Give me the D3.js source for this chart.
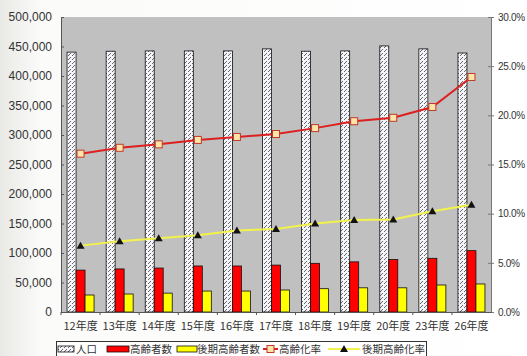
<!DOCTYPE html>
<html>
<head>
<meta charset="utf-8">
<script src="https://cdn.jsdelivr.net/npm/d3@7"></script>
<style>
  body { margin: 0; background: #fff; }
  text { font-family: "Liberation Sans", "Noto Sans CJK JP", sans-serif; fill: #333; }
  .cjk { font-family: "Noto Sans CJK JP", sans-serif; }
</style>
</head>
<body>
<div id="chart"></div>
<script>
/* DATA */
const years = ["12年度", "13年度", "14年度", "15年度", "16年度", "17年度", "18年度", "19年度", "20年度", "23年度", "26年度"];
const population = [440500, 442000, 442500, 442500, 442500, 446000, 442000, 442500, 451000, 446000, 439000];
const elderly = [71000, 73000, 74500, 78000, 78000, 79500, 82500, 85000, 89000, 91000, 104000];
const lateElderly = [28800, 30500, 32000, 35500, 35500, 37300, 39500, 41000, 41000, 45800, 47500];
const agingRate = [16.1, 16.7, 17.05, 17.5, 17.8, 18.1, 18.7, 19.4, 19.75, 20.85, 23.9];
const lateAgingRate = [6.75, 7.2, 7.5, 7.8, 8.3, 8.45, 9.0, 9.35, 9.4, 10.25, 10.9];
const leftTicks = [0, 50000, 100000, 150000, 200000, 250000, 300000, 350000, 400000, 450000, 500000];
const rightTicks = [0, 5, 10, 15, 20, 25, 30];
const barSeries = ["人口", "高齢者数", "後期高齢者数"];

/* LAYOUT */
const width = 527, height = 356;
const plot = { left: 61, right: 491, top: 17, bottom: 312 };

const svg = d3.select("#chart").append("svg")
  .attr("width", width)
  .attr("height", height);

const defs = svg.append("defs");

// faint grey edge on the left like the original page
const bg = defs.append("linearGradient").attr("id", "bg").attr("x1", 0).attr("x2", 1);
bg.append("stop").attr("offset", 0).attr("stop-color", "#e9e9e6");
bg.append("stop").attr("offset", 0.08).attr("stop-color", "#fbfbfa");
bg.append("stop").attr("offset", 1).attr("stop-color", "#ffffff");
svg.append("rect").attr("width", width).attr("height", height).attr("fill", "url(#bg)");

// hatch for the population bars
const hatch = defs.append("pattern")
  .attr("id", "hatch")
  .attr("patternUnits", "userSpaceOnUse")
  .attr("width", 4).attr("height", 4);
hatch.append("rect").attr("width", 4).attr("height", 4).attr("fill", "#f4f4fb");
hatch.append("path").attr("d", "M0,4 L3,1").attr("stroke", "#444").attr("stroke-width", 0.8);

/* SCALES */
const x0 = d3.scaleBand().domain(years).range([plot.left, plot.right]);
const groupW = 27;
const x1 = d3.scaleBand().domain(barSeries).range([0, groupW]);
const yLeft = d3.scaleLinear().domain([0, 500000]).range([plot.bottom, plot.top]);
const yRight = d3.scaleLinear().domain([0, 30]).range([plot.bottom, plot.top]);

const groupX = d => x0(d) + x0.bandwidth() / 2 - groupW / 2;
const pointX = d => groupX(d) + x1("高齢者数") + x1.bandwidth() / 2;

// plot background
svg.append("rect")
  .attr("x", plot.left).attr("y", plot.top)
  .attr("width", plot.right - plot.left).attr("height", plot.bottom - plot.top)
  .attr("fill", "#c0c0c0");

/* BARS */
const fills = { "人口": "url(#hatch)", "高齢者数": "#ff0000", "後期高齢者数": "#ffff00" };
const barRows = years.flatMap((y, i) => [
  { year: y, key: "人口", value: population[i] },
  { year: y, key: "高齢者数", value: elderly[i] },
  { year: y, key: "後期高齢者数", value: lateElderly[i] }
]);

svg.append("g")
  .selectAll("rect")
  .data(barRows)
  .join("rect")
  .attr("x", d => groupX(d.year) + x1(d.key))
  .attr("y", d => yLeft(d.value))
  .attr("width", x1.bandwidth())
  .attr("height", d => yLeft(0) - yLeft(d.value))
  .attr("fill", d => fills[d.key])
  .attr("stroke", "#111")
  .attr("stroke-width", 0.8);

/* AXES */
const leftAxis = svg.append("g")
  .attr("transform", `translate(${plot.left},0)`)
  .call(d3.axisRight(yLeft).tickValues(leftTicks).tickSize(3).tickFormat(""));
leftAxis.select(".domain").attr("stroke", "#555");
leftAxis.selectAll(".tick line").attr("stroke", "#555");

svg.append("g")
  .selectAll("text")
  .data(leftTicks)
  .join("text")
  .attr("x", 52)
  .attr("y", d => yLeft(d) + 4)
  .attr("text-anchor", "end")
  .style("font-size", "12px")
  .text(d => d3.format(",")(d));

const rightAxis = svg.append("g")
  .attr("transform", `translate(${plot.right},0)`)
  .call(d3.axisRight(yRight).tickValues(rightTicks).tickSize(3).tickFormat(d => d.toFixed(1) + "%"));
rightAxis.select(".domain").attr("stroke", "#777");
rightAxis.selectAll(".tick line").attr("stroke", "#777").attr("x1", -3);
rightAxis.selectAll(".tick text")
  .attr("x", 7)
  .style("font-size", "10px")
  .style("font-family", "Liberation Sans")
  .style("letter-spacing", "-0.3px")
  .attr("fill", "#333");

const bottomAxis = svg.append("g")
  .attr("transform", `translate(0,${plot.bottom})`)
  .call(d3.axisBottom(x0).tickSize(0).tickPadding(10));
bottomAxis.select(".domain").attr("stroke", "#555");
bottomAxis.selectAll(".tick text")
  .attr("class", "cjk")
  .style("font-size", "11px")
  .attr("fill", "#333");
svg.append("g")
  .selectAll("line")
  .data(years)
  .join("line")
  .attr("x1", d => x0(d)).attr("x2", d => x0(d))
  .attr("y1", plot.bottom).attr("y2", plot.bottom + 3)
  .attr("stroke", "#555");

/* LINES */
const redLine = d3.line().x((d, i) => pointX(years[i])).y(d => yRight(d));
svg.append("path")
  .datum(agingRate)
  .attr("d", redLine)
  .attr("fill", "none")
  .attr("stroke", "#dd1f1f")
  .attr("stroke-width", 2);
svg.append("g")
  .selectAll("rect")
  .data(agingRate)
  .join("rect")
  .attr("x", (d, i) => pointX(years[i]) - 3.5)
  .attr("y", d => yRight(d) - 3.5)
  .attr("width", 7).attr("height", 7)
  .attr("fill", "#ffe6a8")
  .attr("stroke", "#c0392b")
  .attr("stroke-width", 1);

svg.append("path")
  .datum(lateAgingRate)
  .attr("d", redLine)
  .attr("fill", "none")
  .attr("stroke", "#f2f24a")
  .attr("stroke-width", 2);
svg.append("g")
  .selectAll("path")
  .data(lateAgingRate)
  .join("path")
  .attr("transform", (d, i) => `translate(${pointX(years[i])},${yRight(d)})`)
  .attr("d", "M0,-4 L4,3 L-4,3 Z")
  .attr("fill", "#111");

/* LEGEND */
const legend = svg.append("g");
legend.append("rect")
  .attr("x", 56.5).attr("y", 341.5)
  .attr("width", 370).attr("height", 20)
  .attr("fill", "#fff")
  .attr("stroke", "#333");

const legendY = 349;
const legendItems = [
  { label: "人口", type: "bar", fill: "url(#hatch)", x: 58, w: 16, tx: 76 },
  { label: "高齢者数", type: "bar", fill: "#ff0000", x: 107, w: 22, tx: 130 },
  { label: "後期高齢者数", type: "bar", fill: "#ffff00", x: 177, w: 20, tx: 197 },
  { label: "高齢化率", type: "square", x: 263, w: 15, tx: 279 },
  { label: "後期高齢化率", type: "tri", x: 328, w: 32, tx: 362 }
];
legendItems.forEach(it => {
  if (it.type === "bar") {
    legend.append("rect")
      .attr("x", it.x).attr("y", legendY - 3)
      .attr("width", it.w).attr("height", 6)
      .attr("fill", it.fill)
      .attr("stroke", "#111").attr("stroke-width", 0.8);
  } else if (it.type === "square") {
    legend.append("line")
      .attr("x1", it.x).attr("x2", it.x + it.w)
      .attr("y1", legendY).attr("y2", legendY)
      .attr("stroke", "#dd1f1f").attr("stroke-width", 2);
    legend.append("rect")
      .attr("x", it.x + it.w / 2 - 3.5).attr("y", legendY - 3.5)
      .attr("width", 7).attr("height", 7)
      .attr("fill", "#ffe6a8").attr("stroke", "#c0392b");
  } else {
    legend.append("line")
      .attr("x1", it.x).attr("x2", it.x + it.w)
      .attr("y1", legendY).attr("y2", legendY)
      .attr("stroke", "#f2f24a").attr("stroke-width", 2);
    legend.append("path")
      .attr("transform", `translate(${it.x + it.w / 2},${legendY})`)
      .attr("d", "M0,-4 L4,3 L-4,3 Z")
      .attr("fill", "#111");
  }
  legend.append("text")
    .attr("class", "cjk")
    .attr("x", it.tx)
    .attr("y", legendY + 4)
    .style("font-size", "10.5px")
    .text(it.label);
});
</script>
</body>
</html>
